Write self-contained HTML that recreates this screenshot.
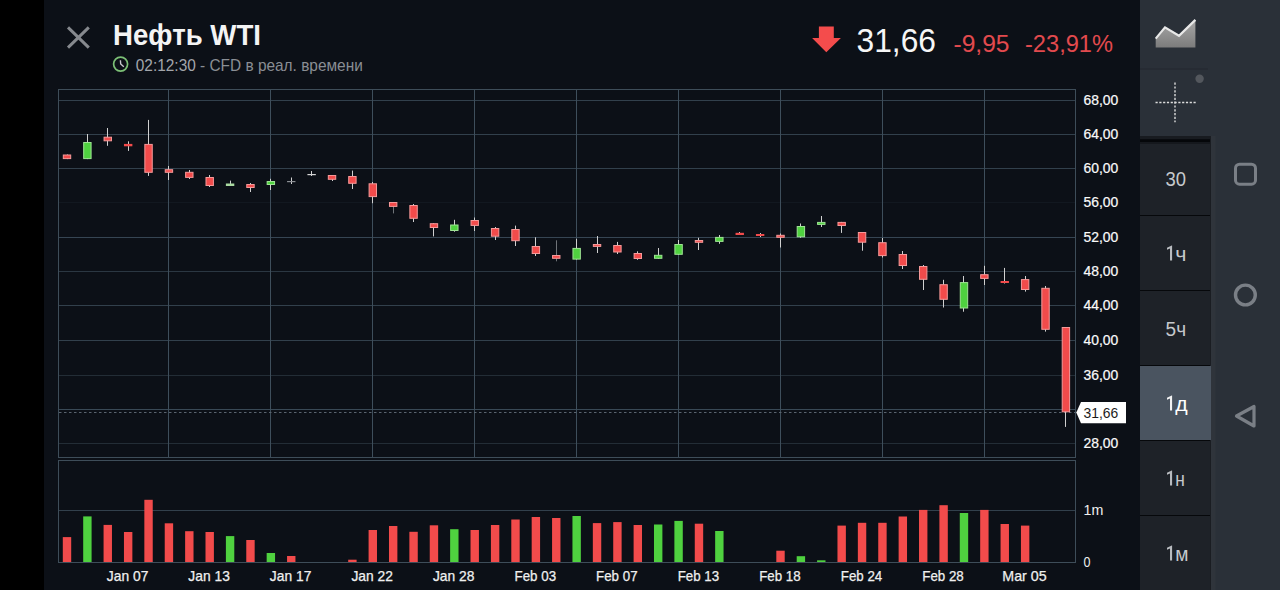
<!DOCTYPE html>
<html><head><meta charset="utf-8">
<style>
html,body{margin:0;padding:0;width:1280px;height:590px;overflow:hidden;background:#0c1017;}
body{position:relative;font-family:"Liberation Sans",sans-serif;}
svg{position:absolute;left:0;top:0;}
svg text{font-family:"Liberation Sans",sans-serif;}
</style></head><body>
<svg width="1280" height="590" viewBox="0 0 1280 590">
<rect x="0" y="0" width="1280" height="590" fill="#0c1017"/>
<rect x="0" y="0" width="44" height="590" fill="#000"/>

<!-- header -->
<path d="M68 27.4 L88.8 47.6 M88.8 27.4 L68 47.6" stroke="#86898e" stroke-width="3"/>
<text x="113" y="45" font-size="29.5" font-weight="bold" fill="#f4f4f4" textLength="148" lengthAdjust="spacingAndGlyphs">Нефть WTI</text>
<circle cx="120.6" cy="64.1" r="7" fill="none" stroke="#7cc076" stroke-width="1.7"/>
<path d="M120.4 60.3 L120.7 64 L123.8 66.8" fill="none" stroke="#c8c8d0" stroke-width="1.4"/>
<text x="135.8" y="70.6" font-size="16.2" fill="#8a8e94" textLength="227" lengthAdjust="spacingAndGlyphs"><tspan fill="#a3a6ab">02:12:30</tspan> - CFD в реал. времени</text>
<path d="M818.9 26.4 H833.8 V38 H840.9 L826.3 52.2 L812.1 38 H818.9 Z" fill="#f44c4c"/>
<text x="856.5" y="52.4" font-size="32.3" fill="#f6f6f6" textLength="79.5" lengthAdjust="spacingAndGlyphs">31,66</text>
<text x="953.5" y="52.4" font-size="24.5" fill="#e24a4e" textLength="56" lengthAdjust="spacingAndGlyphs">-9,95</text>
<text x="1025" y="52.4" font-size="24.5" fill="#e24a4e" textLength="88" lengthAdjust="spacingAndGlyphs">-23,91%</text>
<rect x="58.5" y="89.5" width="1017" height="368" fill="none" stroke="#3e4d59" stroke-width="1"/>
<rect x="59" y="100" width="1016" height="1" fill="#394956" fill-opacity="0.85"/>
<rect x="59" y="134" width="1016" height="1" fill="#394956" fill-opacity="0.85"/>
<rect x="59" y="168" width="1016" height="1" fill="#394956" fill-opacity="0.85"/>
<rect x="59" y="202" width="1016" height="1" fill="#394956" fill-opacity="0.15"/>
<rect x="59" y="237" width="1016" height="1" fill="#394956" fill-opacity="0.95"/>
<rect x="59" y="271" width="1016" height="1" fill="#394956" fill-opacity="0.7"/>
<rect x="59" y="305" width="1016" height="1" fill="#394956" fill-opacity="0.85"/>
<rect x="59" y="340" width="1016" height="1" fill="#394956" fill-opacity="0.85"/>
<rect x="59" y="375" width="1016" height="1" fill="#394956" fill-opacity="0.5"/>
<rect x="59" y="409" width="1016" height="1" fill="#394956" fill-opacity="1.0"/>
<rect x="59" y="443" width="1016" height="1" fill="#394956" fill-opacity="0.5"/>
<rect x="168" y="90" width="1" height="367" fill="#3e4e5b"/>
<rect x="270" y="90" width="1" height="367" fill="#3e4e5b"/>
<rect x="372" y="90" width="1" height="367" fill="#3e4e5b"/>
<rect x="474" y="90" width="1" height="367" fill="#3e4e5b"/>
<rect x="576" y="90" width="1" height="367" fill="#3e4e5b"/>
<rect x="678" y="90" width="1" height="367" fill="#3e4e5b"/>
<rect x="780" y="90" width="1" height="367" fill="#3e4e5b"/>
<rect x="882" y="90" width="1" height="367" fill="#3e4e5b"/>
<rect x="984" y="90" width="1" height="367" fill="#3e4e5b"/>
<line x1="59" y1="412.5" x2="1075" y2="412.5" stroke="#59636e" stroke-width="1" stroke-dasharray="2.5,2.5"/>
<rect x="67" y="154.5" width="1" height="4.6" fill="#d0d0d0"/>
<rect x="63.30" y="155.0" width="7.4" height="3.6" fill="#f24b4b" stroke="#f69a9a" stroke-width="1"/>
<rect x="87" y="134" width="1" height="25.1" fill="#d0d0d0"/>
<rect x="83.69" y="142.5" width="7.4" height="16.1" fill="#4fd13f" stroke="#9fe394" stroke-width="1"/>
<rect x="107" y="128" width="1" height="17.8" fill="#d0d0d0"/>
<rect x="104.07" y="137.2" width="7.4" height="3.6" fill="#f24b4b" stroke="#f69a9a" stroke-width="1"/>
<rect x="128" y="141.3" width="1" height="9.6" fill="#d0d0d0"/>
<rect x="123.96" y="143.9" width="8.4" height="2.4" fill="#f24b4b"/>
<rect x="148" y="119.9" width="1" height="56.0" fill="#d0d0d0"/>
<rect x="144.84" y="144.4" width="7.4" height="27.9" fill="#f24b4b" stroke="#f69a9a" stroke-width="1"/>
<rect x="168" y="166" width="1" height="14.0" fill="#d0d0d0"/>
<rect x="165.23" y="169.7" width="7.4" height="2.6" fill="#f24b4b" stroke="#f69a9a" stroke-width="1"/>
<rect x="189" y="170" width="1" height="9.0" fill="#d0d0d0"/>
<rect x="185.62" y="172.3" width="7.4" height="5.1" fill="#f24b4b" stroke="#f69a9a" stroke-width="1"/>
<rect x="209" y="175" width="1" height="12.0" fill="#d0d0d0"/>
<rect x="206.00" y="177.5" width="7.4" height="8.0" fill="#f24b4b" stroke="#f69a9a" stroke-width="1"/>
<rect x="230" y="180.6" width="1" height="5.4" fill="#d0d0d0"/>
<rect x="225.89" y="183.5" width="8.4" height="2.5" fill="#a9d9a0"/>
<rect x="250" y="183" width="1" height="9.0" fill="#d0d0d0"/>
<rect x="246.77" y="184.5" width="7.4" height="3.0" fill="#f24b4b" stroke="#f69a9a" stroke-width="1"/>
<rect x="270" y="178.8" width="1" height="11.2" fill="#d0d0d0"/>
<rect x="267.16" y="181.5" width="7.4" height="3.0" fill="#4fd13f" stroke="#9fe394" stroke-width="1"/>
<rect x="291" y="177.5" width="1" height="6.5" fill="#d0d0d0"/>
<rect x="287.05" y="181" width="8.4" height="1.2" fill="#8d9095"/>
<rect x="311" y="171" width="1" height="5.0" fill="#d0d0d0"/>
<rect x="307.43" y="174" width="8.4" height="1.2" fill="#d6d6d6"/>
<rect x="332" y="175" width="1" height="6.0" fill="#d0d0d0"/>
<rect x="328.32" y="175.5" width="7.4" height="3.8" fill="#f24b4b" stroke="#f69a9a" stroke-width="1"/>
<rect x="352" y="170.6" width="1" height="18.4" fill="#d0d0d0"/>
<rect x="348.70" y="176.5" width="7.4" height="6.8" fill="#f24b4b" stroke="#f69a9a" stroke-width="1"/>
<rect x="372" y="182" width="1" height="21.2" fill="#d0d0d0"/>
<rect x="369.09" y="183.8" width="7.4" height="12.8" fill="#f24b4b" stroke="#f69a9a" stroke-width="1"/>
<rect x="393" y="202" width="1" height="11.4" fill="#6f7378"/>
<rect x="389.48" y="202.5" width="7.4" height="3.9" fill="#f24b4b" stroke="#f69a9a" stroke-width="1"/>
<rect x="413" y="204" width="1" height="18.0" fill="#d0d0d0"/>
<rect x="409.86" y="205.5" width="7.4" height="12.8" fill="#f24b4b" stroke="#f69a9a" stroke-width="1"/>
<rect x="433" y="223.2" width="1" height="13.2" fill="#d0d0d0"/>
<rect x="430.25" y="223.7" width="7.4" height="3.8" fill="#f24b4b" stroke="#f69a9a" stroke-width="1"/>
<rect x="454" y="219.8" width="1" height="11.9" fill="#d0d0d0"/>
<rect x="450.63" y="225.0" width="7.4" height="5.5" fill="#4fd13f" stroke="#9fe394" stroke-width="1"/>
<rect x="474" y="217.5" width="1" height="13.5" fill="#d0d0d0"/>
<rect x="471.02" y="220.5" width="7.4" height="4.9" fill="#f24b4b" stroke="#f69a9a" stroke-width="1"/>
<rect x="495" y="227" width="1" height="13.0" fill="#d0d0d0"/>
<rect x="491.41" y="228.5" width="7.4" height="7.7" fill="#f24b4b" stroke="#f69a9a" stroke-width="1"/>
<rect x="515" y="225.6" width="1" height="20.4" fill="#d0d0d0"/>
<rect x="511.79" y="229.5" width="7.4" height="11.2" fill="#f24b4b" stroke="#f69a9a" stroke-width="1"/>
<rect x="535" y="237.3" width="1" height="18.7" fill="#d0d0d0"/>
<rect x="532.18" y="246.5" width="7.4" height="7.0" fill="#f24b4b" stroke="#f69a9a" stroke-width="1"/>
<rect x="556" y="240.3" width="1" height="21.0" fill="#6f7378"/>
<rect x="552.56" y="255.5" width="7.4" height="2.8" fill="#f24b4b" stroke="#f69a9a" stroke-width="1"/>
<rect x="576" y="238.8" width="1" height="20.8" fill="#d0d0d0"/>
<rect x="572.95" y="248.4" width="7.4" height="10.7" fill="#4fd13f" stroke="#9fe394" stroke-width="1"/>
<rect x="597" y="236" width="1" height="17.0" fill="#d0d0d0"/>
<rect x="593.34" y="244.5" width="7.4" height="1.9" fill="#f24b4b" stroke="#f69a9a" stroke-width="1"/>
<rect x="617" y="241.9" width="1" height="12.1" fill="#d0d0d0"/>
<rect x="613.72" y="245.5" width="7.4" height="6.5" fill="#f24b4b" stroke="#f69a9a" stroke-width="1"/>
<rect x="637" y="251.3" width="1" height="8.5" fill="#d0d0d0"/>
<rect x="634.11" y="253.5" width="7.4" height="5.0" fill="#f24b4b" stroke="#f69a9a" stroke-width="1"/>
<rect x="658" y="248" width="1" height="10.8" fill="#d0d0d0"/>
<rect x="654.49" y="255.3" width="7.4" height="3.0" fill="#4fd13f" stroke="#9fe394" stroke-width="1"/>
<rect x="678" y="240" width="1" height="14.8" fill="#d0d0d0"/>
<rect x="674.88" y="244.5" width="7.4" height="9.8" fill="#4fd13f" stroke="#9fe394" stroke-width="1"/>
<rect x="698" y="237.8" width="1" height="12.2" fill="#d0d0d0"/>
<rect x="695.27" y="240.5" width="7.4" height="1.8" fill="#f24b4b" stroke="#f69a9a" stroke-width="1"/>
<rect x="719" y="235" width="1" height="8.8" fill="#d0d0d0"/>
<rect x="715.65" y="237.4" width="7.4" height="4.0" fill="#4fd13f" stroke="#9fe394" stroke-width="1"/>
<rect x="739" y="232" width="1" height="3.0" fill="#d0d0d0"/>
<rect x="735.54" y="232.8" width="8.4" height="2.2" fill="#f24b4b"/>
<rect x="760" y="233" width="1" height="4.0" fill="#d0d0d0"/>
<rect x="755.92" y="234" width="8.4" height="2.0" fill="#f24b4b"/>
<rect x="780" y="233.5" width="1" height="14.0" fill="#d0d0d0"/>
<rect x="776.81" y="235.3" width="7.4" height="2.0" fill="#f24b4b" stroke="#f69a9a" stroke-width="1"/>
<rect x="800" y="223.5" width="1" height="14.3" fill="#d0d0d0"/>
<rect x="797.20" y="226.5" width="7.4" height="10.3" fill="#4fd13f" stroke="#9fe394" stroke-width="1"/>
<rect x="821" y="216" width="1" height="11.0" fill="#d0d0d0"/>
<rect x="817.58" y="222.4" width="7.4" height="2.0" fill="#4fd13f" stroke="#9fe394" stroke-width="1"/>
<rect x="841" y="221.9" width="1" height="11.0" fill="#d0d0d0"/>
<rect x="837.97" y="222.4" width="7.4" height="3.1" fill="#f24b4b" stroke="#f69a9a" stroke-width="1"/>
<rect x="862" y="232" width="1" height="18.7" fill="#d0d0d0"/>
<rect x="858.35" y="232.5" width="7.4" height="9.7" fill="#f24b4b" stroke="#f69a9a" stroke-width="1"/>
<rect x="882" y="238" width="1" height="19.5" fill="#d0d0d0"/>
<rect x="878.74" y="242.7" width="7.4" height="12.9" fill="#f24b4b" stroke="#f69a9a" stroke-width="1"/>
<rect x="902" y="251" width="1" height="18.0" fill="#d0d0d0"/>
<rect x="899.13" y="254.5" width="7.4" height="11.0" fill="#f24b4b" stroke="#f69a9a" stroke-width="1"/>
<rect x="923" y="265" width="1" height="25.0" fill="#d0d0d0"/>
<rect x="919.51" y="266.5" width="7.4" height="12.8" fill="#f24b4b" stroke="#f69a9a" stroke-width="1"/>
<rect x="943" y="279.8" width="1" height="27.7" fill="#d0d0d0"/>
<rect x="939.90" y="284.7" width="7.4" height="14.6" fill="#f24b4b" stroke="#f69a9a" stroke-width="1"/>
<rect x="963" y="276" width="1" height="35.7" fill="#d0d0d0"/>
<rect x="960.28" y="282.6" width="7.4" height="25.4" fill="#4fd13f" stroke="#9fe394" stroke-width="1"/>
<rect x="984" y="265.8" width="1" height="19.2" fill="#d0d0d0"/>
<rect x="980.67" y="274.7" width="7.4" height="3.7" fill="#f24b4b" stroke="#f69a9a" stroke-width="1"/>
<rect x="1004" y="267.9" width="1" height="15.6" fill="#d0d0d0"/>
<rect x="1000.56" y="281" width="8.4" height="2.0" fill="#f24b4b"/>
<rect x="1025" y="276" width="1" height="15.6" fill="#d0d0d0"/>
<rect x="1021.44" y="279.6" width="7.4" height="9.9" fill="#f24b4b" stroke="#f69a9a" stroke-width="1"/>
<rect x="1045" y="286" width="1" height="45.6" fill="#d0d0d0"/>
<rect x="1041.83" y="288.3" width="7.4" height="41.0" fill="#f24b4b" stroke="#f69a9a" stroke-width="1"/>
<rect x="1065" y="327" width="1" height="99.9" fill="#d0d0d0"/>
<rect x="1062.21" y="327.5" width="7.4" height="84.3" fill="#f24b4b" stroke="#f69a9a" stroke-width="1"/>
<rect x="58.5" y="460.5" width="1017" height="102" fill="none" stroke="#3e4d59" stroke-width="1"/>
<rect x="59" y="510" width="1016" height="1" fill="#394956" fill-opacity="0.85"/>
<rect x="62.80" y="537.1" width="8.4" height="24.9" fill="#f24b4b"/>
<rect x="83.19" y="516.4" width="8.4" height="45.6" fill="#4fd13f"/>
<rect x="103.57" y="524.9" width="8.4" height="37.1" fill="#f24b4b"/>
<rect x="123.96" y="532.0" width="8.4" height="30.0" fill="#f24b4b"/>
<rect x="144.34" y="499.8" width="8.4" height="62.2" fill="#f24b4b"/>
<rect x="164.73" y="523.3" width="8.4" height="38.7" fill="#f24b4b"/>
<rect x="185.12" y="531.2" width="8.4" height="30.8" fill="#f24b4b"/>
<rect x="205.50" y="532.0" width="8.4" height="30.0" fill="#f24b4b"/>
<rect x="225.89" y="536.1" width="8.4" height="25.9" fill="#4fd13f"/>
<rect x="246.27" y="540.0" width="8.4" height="22.0" fill="#f24b4b"/>
<rect x="266.66" y="553.0" width="8.4" height="9.0" fill="#4fd13f"/>
<rect x="287.05" y="556.0" width="8.4" height="6.0" fill="#f24b4b"/>
<rect x="348.20" y="559.7" width="8.4" height="2.3" fill="#f24b4b"/>
<rect x="368.59" y="530.0" width="8.4" height="32.0" fill="#f24b4b"/>
<rect x="388.98" y="526.0" width="8.4" height="36.0" fill="#f24b4b"/>
<rect x="409.36" y="531.8" width="8.4" height="30.2" fill="#f24b4b"/>
<rect x="429.75" y="525.3" width="8.4" height="36.7" fill="#f24b4b"/>
<rect x="450.13" y="529.2" width="8.4" height="32.8" fill="#4fd13f"/>
<rect x="470.52" y="530.0" width="8.4" height="32.0" fill="#f24b4b"/>
<rect x="490.91" y="525.0" width="8.4" height="37.0" fill="#f24b4b"/>
<rect x="511.29" y="519.5" width="8.4" height="42.5" fill="#f24b4b"/>
<rect x="531.68" y="517.0" width="8.4" height="45.0" fill="#f24b4b"/>
<rect x="552.06" y="518.0" width="8.4" height="44.0" fill="#f24b4b"/>
<rect x="572.45" y="516.0" width="8.4" height="46.0" fill="#4fd13f"/>
<rect x="592.84" y="523.1" width="8.4" height="38.9" fill="#f24b4b"/>
<rect x="613.22" y="522.1" width="8.4" height="39.9" fill="#f24b4b"/>
<rect x="633.61" y="525.0" width="8.4" height="37.0" fill="#f24b4b"/>
<rect x="653.99" y="524.5" width="8.4" height="37.5" fill="#4fd13f"/>
<rect x="674.38" y="520.9" width="8.4" height="41.1" fill="#4fd13f"/>
<rect x="694.77" y="523.7" width="8.4" height="38.3" fill="#f24b4b"/>
<rect x="715.15" y="531.0" width="8.4" height="31.0" fill="#4fd13f"/>
<rect x="776.31" y="550.7" width="8.4" height="11.3" fill="#f24b4b"/>
<rect x="796.70" y="556.2" width="8.4" height="5.8" fill="#4fd13f"/>
<rect x="817.08" y="560.3" width="8.4" height="1.7" fill="#4fd13f"/>
<rect x="837.47" y="525.6" width="8.4" height="36.4" fill="#f24b4b"/>
<rect x="857.85" y="522.8" width="8.4" height="39.2" fill="#f24b4b"/>
<rect x="878.24" y="522.8" width="8.4" height="39.2" fill="#f24b4b"/>
<rect x="898.63" y="516.5" width="8.4" height="45.5" fill="#f24b4b"/>
<rect x="919.01" y="509.9" width="8.4" height="52.1" fill="#f24b4b"/>
<rect x="939.40" y="505.2" width="8.4" height="56.8" fill="#f24b4b"/>
<rect x="959.78" y="513.0" width="8.4" height="49.0" fill="#4fd13f"/>
<rect x="980.17" y="509.9" width="8.4" height="52.1" fill="#f24b4b"/>
<rect x="1000.56" y="524.0" width="8.4" height="38.0" fill="#f24b4b"/>
<rect x="1020.94" y="525.6" width="8.4" height="36.4" fill="#f24b4b"/>
<text x="1083.5" y="104.8" font-size="14.8" fill="#fafafa" stroke="#fafafa" stroke-width="0.22" textLength="34.8" lengthAdjust="spacingAndGlyphs">68,00</text>
<text x="1083.5" y="138.8" font-size="14.8" fill="#fafafa" stroke="#fafafa" stroke-width="0.22" textLength="34.8" lengthAdjust="spacingAndGlyphs">64,00</text>
<text x="1083.5" y="172.8" font-size="14.8" fill="#fafafa" stroke="#fafafa" stroke-width="0.22" textLength="34.8" lengthAdjust="spacingAndGlyphs">60,00</text>
<text x="1083.5" y="206.8" font-size="14.8" fill="#fafafa" stroke="#fafafa" stroke-width="0.22" textLength="34.8" lengthAdjust="spacingAndGlyphs">56,00</text>
<text x="1083.5" y="241.8" font-size="14.8" fill="#fafafa" stroke="#fafafa" stroke-width="0.22" textLength="34.8" lengthAdjust="spacingAndGlyphs">52,00</text>
<text x="1083.5" y="275.8" font-size="14.8" fill="#fafafa" stroke="#fafafa" stroke-width="0.22" textLength="34.8" lengthAdjust="spacingAndGlyphs">48,00</text>
<text x="1083.5" y="309.8" font-size="14.8" fill="#fafafa" stroke="#fafafa" stroke-width="0.22" textLength="34.8" lengthAdjust="spacingAndGlyphs">44,00</text>
<text x="1083.5" y="344.8" font-size="14.8" fill="#fafafa" stroke="#fafafa" stroke-width="0.22" textLength="34.8" lengthAdjust="spacingAndGlyphs">40,00</text>
<text x="1083.5" y="379.8" font-size="14.8" fill="#fafafa" stroke="#fafafa" stroke-width="0.22" textLength="34.8" lengthAdjust="spacingAndGlyphs">36,00</text>
<text x="1083.5" y="447.8" font-size="14.8" fill="#fafafa" stroke="#fafafa" stroke-width="0.22" textLength="34.8" lengthAdjust="spacingAndGlyphs">28,00</text>
<path d="M1076.3 412.4 L1081 402 L1126 402 L1126 423.2 L1081 423.2 Z" fill="#ffffff"/>
<text x="1083.5" y="418.3" font-size="14.6" fill="#1b1b1b" textLength="34.8" lengthAdjust="spacingAndGlyphs">31,66</text>
<text x="1083.5" y="515.2" font-size="14.6" fill="#f0f0f0" textLength="19.8" lengthAdjust="spacingAndGlyphs">1m</text>
<text x="1083.5" y="566.7" font-size="14.6" fill="#f0f0f0" textLength="7" lengthAdjust="spacingAndGlyphs">0</text>
<text x="127.6" y="581" font-size="14.8" fill="#f0f0f0" stroke="#f0f0f0" stroke-width="0.25" text-anchor="middle" textLength="41.5" lengthAdjust="spacingAndGlyphs">Jan 07</text>
<text x="209.1" y="581" font-size="14.8" fill="#f0f0f0" stroke="#f0f0f0" stroke-width="0.25" text-anchor="middle" textLength="41.5" lengthAdjust="spacingAndGlyphs">Jan 13</text>
<text x="290.6" y="581" font-size="14.8" fill="#f0f0f0" stroke="#f0f0f0" stroke-width="0.25" text-anchor="middle" textLength="41.5" lengthAdjust="spacingAndGlyphs">Jan 17</text>
<text x="372.2" y="581" font-size="14.8" fill="#f0f0f0" stroke="#f0f0f0" stroke-width="0.25" text-anchor="middle" textLength="41.5" lengthAdjust="spacingAndGlyphs">Jan 22</text>
<text x="453.7" y="581" font-size="14.8" fill="#f0f0f0" stroke="#f0f0f0" stroke-width="0.25" text-anchor="middle" textLength="41.5" lengthAdjust="spacingAndGlyphs">Jan 28</text>
<text x="535.3" y="581" font-size="14.8" fill="#f0f0f0" stroke="#f0f0f0" stroke-width="0.25" text-anchor="middle" textLength="41.5" lengthAdjust="spacingAndGlyphs">Feb 03</text>
<text x="616.8" y="581" font-size="14.8" fill="#f0f0f0" stroke="#f0f0f0" stroke-width="0.25" text-anchor="middle" textLength="41.5" lengthAdjust="spacingAndGlyphs">Feb 07</text>
<text x="698.4" y="581" font-size="14.8" fill="#f0f0f0" stroke="#f0f0f0" stroke-width="0.25" text-anchor="middle" textLength="41.5" lengthAdjust="spacingAndGlyphs">Feb 13</text>
<text x="779.9" y="581" font-size="14.8" fill="#f0f0f0" stroke="#f0f0f0" stroke-width="0.25" text-anchor="middle" textLength="41.5" lengthAdjust="spacingAndGlyphs">Feb 18</text>
<text x="861.5" y="581" font-size="14.8" fill="#f0f0f0" stroke="#f0f0f0" stroke-width="0.25" text-anchor="middle" textLength="41.5" lengthAdjust="spacingAndGlyphs">Feb 24</text>
<text x="943.0" y="581" font-size="14.8" fill="#f0f0f0" stroke="#f0f0f0" stroke-width="0.25" text-anchor="middle" textLength="41.5" lengthAdjust="spacingAndGlyphs">Feb 28</text>
<text x="1024.5" y="581" font-size="14.8" fill="#f0f0f0" stroke="#f0f0f0" stroke-width="0.25" text-anchor="middle" textLength="44.3" lengthAdjust="spacingAndGlyphs">Mar 05</text>
<!-- right panel -->
<rect x="1140" y="0" width="140" height="590" fill="#2a3038"/>
<line x1="1140" y1="69" x2="1208" y2="69" stroke="#23272e" stroke-width="1"/>
<defs><linearGradient id="ag" x1="0" y1="0" x2="0" y2="1"><stop offset="0" stop-color="#a8a8a8"/><stop offset="1" stop-color="#7c7c7c"/></linearGradient></defs>
<path d="M1155.7 38.6 L1165 27.4 L1179 35.8 L1195.4 19.9 L1195.4 47.4 L1155.7 47.4 Z" fill="url(#ag)"/>
<path d="M1155.7 38.6 L1165 27.4 L1179 35.8 L1195.4 19.9" fill="none" stroke="#e8e8e8" stroke-width="2.2"/>
<line x1="1155.5" y1="102.5" x2="1195.7" y2="102.5" stroke="#dcdcdc" stroke-width="1.4" stroke-dasharray="2.2,1.6"/>
<line x1="1175" y1="82.6" x2="1175" y2="122.3" stroke="#dcdcdc" stroke-width="1.4" stroke-dasharray="2.2,1.6"/>
<circle cx="1199.6" cy="78.8" r="4.2" fill="#53575d"/>
<rect x="1140" y="136" width="70" height="454" fill="#06080b"/>
<rect x="1140" y="144" width="70" height="71" fill="#1e2228"/>
<text x="1175.8" y="185.9" font-size="19.5" fill="#c6c9cc" text-anchor="middle" textLength="20.5" lengthAdjust="spacingAndGlyphs">30</text>
<rect x="1140" y="216" width="70" height="74" fill="#1e2228"/>
<path d="M1172.1 245.60000000000002 V260.6 H1170 V248.60000000000002 L1167 249.7 V247.8 L1171.7 245.60000000000002 Z" fill="#c6c9cc" fill-opacity="0.92"/>
<text x="1175.2" y="260.8" font-size="20.5" fill="#c6c9cc" textLength="11.2" lengthAdjust="spacingAndGlyphs">ч</text>
<rect x="1140" y="291" width="70" height="74" fill="#1e2228"/>
<text x="1175.8" y="335.9" font-size="19.5" fill="#c6c9cc" text-anchor="middle" textLength="20.5" lengthAdjust="spacingAndGlyphs">5ч</text>
<rect x="1140" y="366" width="71" height="74" fill="#4a5460"/>
<path d="M1172.1 395.6 V410.6 H1170 V398.6 L1167 399.7 V397.8 L1171.7 395.6 Z" fill="#ffffff" fill-opacity="0.92"/>
<text x="1175.2" y="410.8" font-size="20.5" fill="#ffffff" textLength="12.4" lengthAdjust="spacingAndGlyphs">д</text>
<rect x="1140" y="441" width="70" height="74" fill="#1e2228"/>
<path d="M1172.1 470.6 V485.6 H1170 V473.6 L1167 474.7 V472.8 L1171.7 470.6 Z" fill="#c6c9cc" fill-opacity="0.92"/>
<text x="1175.2" y="485.8" font-size="20.5" fill="#c6c9cc" textLength="9.6" lengthAdjust="spacingAndGlyphs">н</text>
<rect x="1140" y="516" width="70" height="74" fill="#1e2228"/>
<path d="M1172.1 545.6 V560.6 H1170 V548.6 L1167 549.7 V547.8 L1171.7 545.6 Z" fill="#c6c9cc" fill-opacity="0.92"/>
<text x="1175.2" y="560.8" font-size="20.5" fill="#c6c9cc" textLength="13.2" lengthAdjust="spacingAndGlyphs">м</text>
<rect x="1140" y="136" width="70" height="3.5" fill="#181b20"/>
<rect x="1140" y="139.5" width="70" height="2.5" fill="#05070a"/>
<rect x="1140" y="142" width="70" height="2" fill="#15181d"/>
<rect x="1210" y="136" width="1" height="230" fill="#1a1d22"/>
<rect x="1210" y="440" width="1" height="150" fill="#1a1d22"/>
<rect x="1211" y="136" width="4.5" height="454" fill="#2f343b"/>
<rect x="1235.5" y="164.2" width="20" height="20" rx="4" fill="none" stroke="#7a7f86" stroke-width="3"/>
<circle cx="1245.4" cy="295" r="9.9" fill="none" stroke="#7a7f86" stroke-width="3.4"/>
<path d="M1236.5 416 L1254 406.5 L1254 426 Z" fill="none" stroke="#7a7f86" stroke-width="3.2" stroke-linejoin="round"/>
</svg>
</body></html>
